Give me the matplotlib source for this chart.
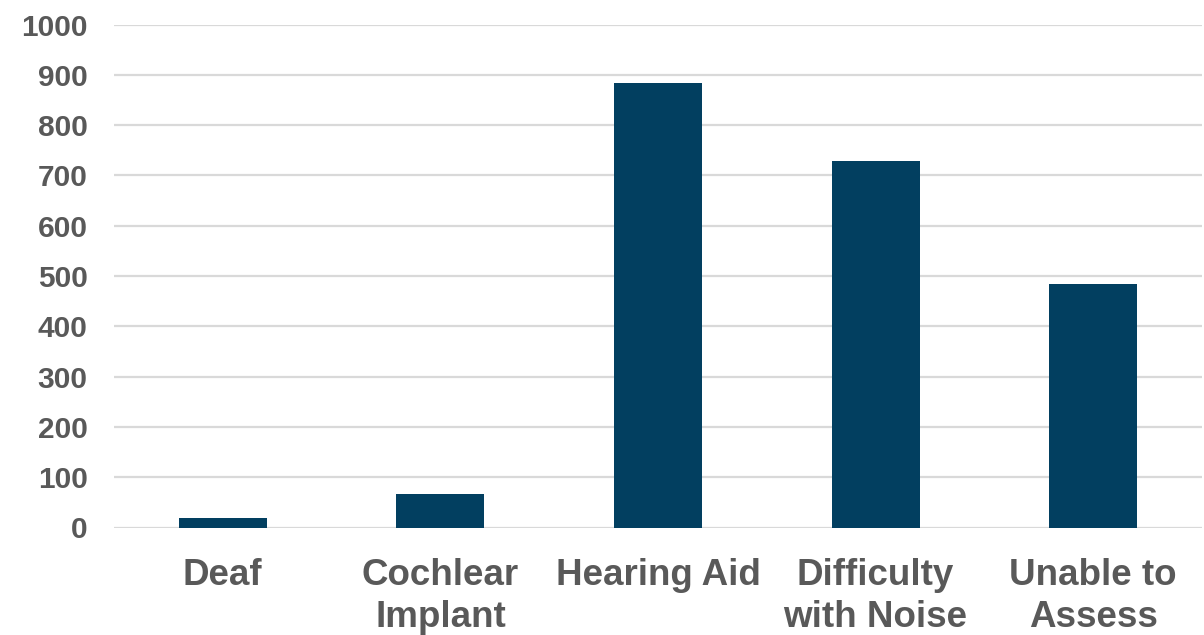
import matplotlib
matplotlib.use("Agg")
import matplotlib.pyplot as plt

categories = ["Deaf", "Cochlear\nImplant", "Hearing Aid", "Difficulty\nwith Noise", "Unable to\nAssess"]
counts = [19, 67, 884, 729, 484]
yticks = list(range(0, 1001, 100))

plt.rcParams['font.family'] = ['Liberation Sans', 'DejaVu Sans']

fig = plt.figure(figsize=(12.04, 6.35), dpi=100)
ax = fig.add_axes([114 / 1204, 107.5 / 635, 1088 / 1204, 503 / 635])

x = list(range(len(categories)))
ax.bar(x, counts, width=0.405, color='#023F60', zorder=3)

ax.set_xlim(-0.5, len(categories) - 0.5)
ax.set_ylim(0, 1000)
ax.set_yticks(yticks)
ax.set_xticks(x)
ax.set_xticklabels(categories, fontsize=26.5, fontweight='bold', color='#595959',
                   linespacing=1.24)
ax.set_yticklabels([str(t) for t in yticks], fontsize=21.5, fontweight='bold', color='#595959')

ax.yaxis.grid(True, color='#D9D9D9', linewidth=1.6, zorder=0)
ax.tick_params(axis='both', length=0)
ax.tick_params(axis='y', pad=19)
ax.tick_params(axis='x', pad=22)
for s in ax.spines.values():
    s.set_visible(False)

fig.savefig("out.png", dpi=100)
